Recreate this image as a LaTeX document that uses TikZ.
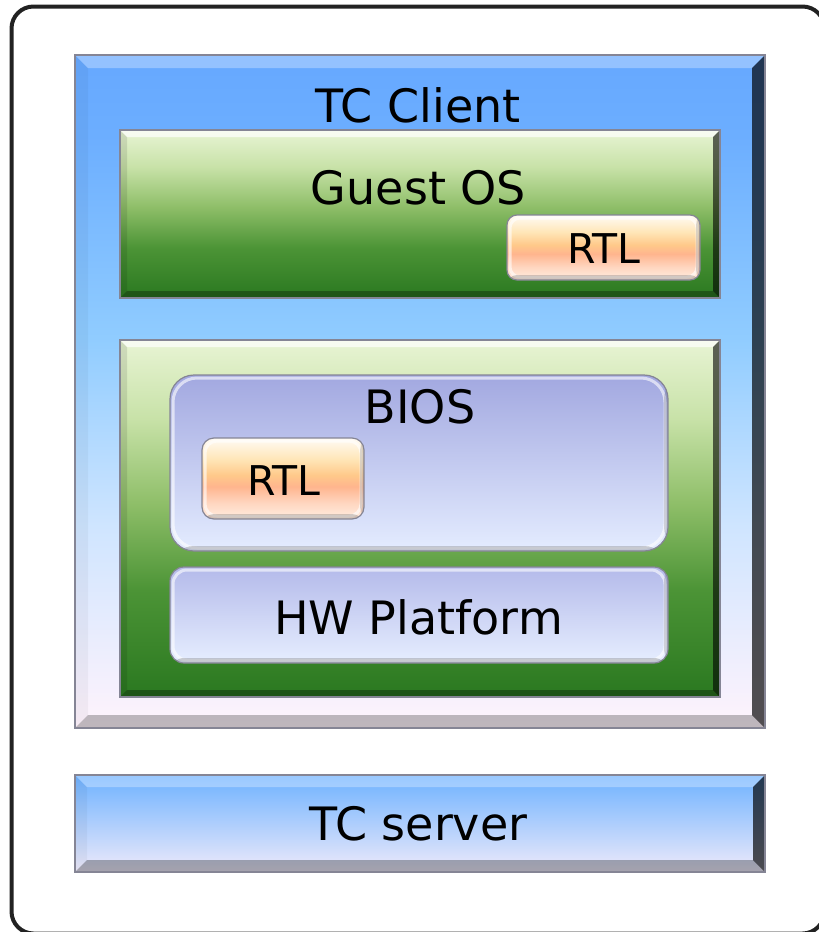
\documentclass[tikz,border=0pt]{standalone}
\usepackage{fontspec}
\setmainfont{DejaVu Sans}
\usetikzlibrary{calc}

\definecolor{cliA0}{HTML}{66A8FF}
\definecolor{cliA}{HTML}{6CAEFF}
\definecolor{cliB}{HTML}{90CCFF}
\definecolor{cliC}{HTML}{CFE5FF}
\definecolor{cliD}{HTML}{FFF3FC}
\definecolor{grA}{HTML}{E8F4D4}
\definecolor{grB}{HTML}{C8E2A8}
\definecolor{grC}{HTML}{8EBE68}
\definecolor{grD}{HTML}{4C9436}
\definecolor{grE}{HTML}{2A7820}
\definecolor{orA}{HTML}{FFFBF5}
\definecolor{orB}{HTML}{FFE6B8}
\definecolor{orC}{HTML}{FFC98A}
\definecolor{orD}{HTML}{FFB58E}
\definecolor{orE}{HTML}{FFD6C0}
\definecolor{orF}{HTML}{FFEDE0}
\definecolor{svA}{HTML}{6EB2FF}
\definecolor{svB}{HTML}{A6D6FF}
\definecolor{svC}{HTML}{EEEAFA}
\definecolor{biA}{HTML}{A2A8E0}
\definecolor{biB}{HTML}{C4CCF4}
\definecolor{biC}{HTML}{E4ECFF}
\definecolor{hwA}{HTML}{B4BAEA}
\definecolor{hwC}{HTML}{E6EEFF}
\definecolor{edge}{HTML}{858595}
\definecolor{framec}{HTML}{222222}

\pgfdeclareverticalshading{clientsh}{100bp}{color(0bp)=(cliD); color(25bp)=(cliD); color(40bp)=(cliC); color(54bp)=(cliB); color(69bp)=(cliA); color(75bp)=(cliA0); color(100bp)=(cliA0)}
\pgfdeclareverticalshading{greensh}{100bp}{color(0bp)=(grE); color(25bp)=(grE); color(40bp)=(grD); color(52bp)=(grC); color(64bp)=(grB); color(75bp)=(grA); color(100bp)=(grA)}
\pgfdeclareverticalshading{orangesh}{100bp}{color(0bp)=(orF); color(25bp)=(orF); color(35bp)=(orE); color(45bp)=(orD); color(52bp)=(orC); color(62bp)=(orB); color(75bp)=(orA); color(100bp)=(orA)}

\tikzset{
  bevel/.style n args={5}{path picture={
    \coordinate (bnw) at (path picture bounding box.north west);
    \coordinate (bne) at (path picture bounding box.north east);
    \coordinate (bsw) at (path picture bounding box.south west);
    \coordinate (bse) at (path picture bounding box.south east);
    \fill[white,opacity=#2] (bnw) -- (bne) -- ($(bne)+(-#1,-#1)$) -- ($(bnw)+(#1,-#1)$) -- cycle;
    \fill[black,opacity=#3] (bnw) -- ($(bnw)+(#1,-#1)$) -- ($(bsw)+(#1,#1)$) -- (bsw) -- cycle;
    \fill[black,opacity=#4] (bne) -- (bse) -- ($(bse)+(-#1,#1)$) -- ($(bne)+(-#1,-#1)$) -- cycle;
    \fill[black,opacity=#5] (bsw) -- ($(bsw)+(#1,#1)$) -- ($(bse)+(-#1,#1)$) -- (bse) -- cycle;
  }},
  softbevel/.style={rounded corners=#1, path picture={
    \coordinate (bne) at (path picture bounding box.north east);
    \coordinate (bsw) at (path picture bounding box.south west);
    \coordinate (bse) at (path picture bounding box.south east);
    \draw[white,opacity=.6,line width=3pt,rounded corners=#1] ($(bsw)+(3pt,3pt)$) rectangle ($(bne)+(-3pt,-3pt)$);
    \fill[black,opacity=.18] (bsw) rectangle ($(bse)+(0,5pt)$);
    \fill[black,opacity=.14] ($(bse)+(-4pt,0)$) rectangle (bne);
  }},
  box/.style={draw=edge, line width=1.2pt, anchor=north west, inner sep=0pt, outer sep=0pt},
  lbl/.style={anchor=base, inner sep=0pt, font=\fontsize{46}{50}\selectfont},
  slbl/.style={anchor=base, inner sep=0pt, font=\fontsize{41}{45}\selectfont},
}

\begin{document}
\begin{tikzpicture}[x=1pt,y=-1pt]
\useasboundingbox (0,0) rectangle (819,932);

% outer frame
\node[draw=framec, line width=4pt, rounded corners=22pt, anchor=north west, inner sep=0pt, outer sep=0pt,
      minimum width=813pt, minimum height=927pt] (frame) at (11.5,6.5) {};

% TC Client
\node[box, shading=clientsh, minimum width=690pt, minimum height=673pt,
      bevel={13pt}{.3}{.04}{.68}{.25}] (client) at (75,55) {};
\node[lbl] (clientlbl) at (418,122) {TC Client};

% Guest OS
\node[box, shading=greensh, minimum width=600pt, minimum height=168pt,
      bevel={7pt}{.7}{.1}{.6}{.3}] (guest) at (120,130) {};
\node[lbl] (guestlbl) at (418.5,204) {Guest OS};

\node[box, shading=orangesh, minimum width=193pt, minimum height=65pt, softbevel=10pt] (rtlA) at (507,215) {};
\node[slbl] (rtlAlbl) at (604,263) {RTL};

% Platform
\node[box, shading=greensh, minimum width=600pt, minimum height=357pt,
      bevel={7pt}{.7}{.1}{.6}{.3}] (plat) at (120,340) {};

\node[box, top color=biA, middle color=biB, bottom color=biC, minimum width=498pt, minimum height=176pt,
      softbevel=24pt] (bios) at (170,375) {};
\node[lbl] (bioslbl) at (420,423) {BIOS};

\node[box, shading=orangesh, minimum width=162pt, minimum height=81pt, softbevel=12pt] (rtlB) at (202,438) {};
\node[slbl] (rtlBlbl) at (284,495) {RTL};

\node[box, top color=hwA, bottom color=hwC, minimum width=498pt, minimum height=96pt,
      softbevel=14pt] (hw) at (170,567) {};
\node[lbl] (hwlbl) at (418.5,634) {HW Platform};

% TC server
\node[box, top color=svA, middle color=svB, bottom color=svC, minimum width=690pt, minimum height=97pt,
      bevel={12pt}{.3}{.04}{.68}{.3}] (server) at (75,775) {};
\node[lbl] (serverlbl) at (418.5,840) {TC server};
\end{tikzpicture}
\end{document}
